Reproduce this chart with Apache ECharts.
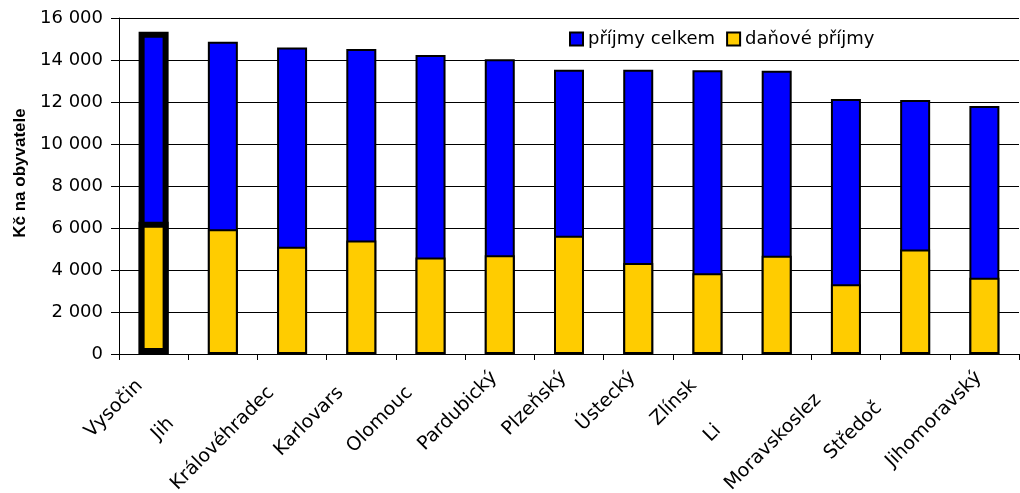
<!DOCTYPE html>
<html>
<head>
<meta charset="utf-8">
<script src="https://cdn.jsdelivr.net/npm/echarts@6/dist/echarts.min.js"></script>
<style>html,body{margin:0;padding:0;background:#fff}#c{width:1020px;height:493px}</style>
</head>
<body>
<div id="c"></div>
<script>
const categories = ["Vysočina","Jihočeský","Královéhradecký","Karlovarský","Olomoucký","Pardubický","Plzeňský","Ústecký","Zlínský","Liberecký","Moravskoslezský","Středočeský","Jihomoravský"];
// visible (unclipped) part of each category label as shown in the original
const tickLabels = ["Vysočin","Jih","Královéhradec","Karlovars","Olomouc","Pardubický","Plzeňský","Ústecký","Zlínsk","Li","Moravskoslez","Středoč","Jihomoravský"];
const prijmyCelkem = [15350,14870,14600,14520,14240,14030,13540,13540,13510,13490,12140,12100,11810];
const danovePrijmy = [6300,5940,5110,5400,4600,4700,5630,4330,3840,4680,3320,4980,3630];
const seriesNames = ["příjmy celkem","daňové příjmy"];
const yAxisTitle = "Kč na obyvatele";
const highlightIndex = 0;

const hFont = "DejaVu Sans";
function mk(vals){
  return vals.map((v,i)=> i===highlightIndex ? {value:v,itemStyle:{borderWidth:6}} : v);
}
const chart = echarts.init(document.getElementById('c'));
chart.setOption({
  animation:false,
  legend:{
    left:564, top:25, itemWidth:13, itemHeight:13, itemGap:11,
    icon:'rect',
    textStyle:{fontFamily:hFont,fontSize:18,color:'#000'},
    data:seriesNames
  },
  grid:{left:119,top:18,right:1,bottom:139,containLabel:false,outerBoundsMode:'none'},
  xAxis:{
    type:'category', data:categories,
    axisLine:{lineStyle:{color:'#000',width:1}},
    axisTick:{show:true,length:6,lineStyle:{color:'#000'},alignWithLabel:false},
    axisLabel:{
      interval:0, rotate:45, margin:15, padding:[0,8,0,0],
      formatter:function(v,i){
        const vis = tickLabels[i];
        const rest = v.slice(vis.length);
        return '{a|'+vis+'}' + (rest ? '{b|'+rest+'}' : '');
      },
      rich:{
        a:{fontFamily:hFont,fontSize:19,color:'#000'},
        b:{fontFamily:hFont,fontSize:19,color:'rgba(0,0,0,0)'}
      }
    }
  },
  yAxis:{
    type:'value', min:0, max:16000, interval:2000,
    name:yAxisTitle, nameLocation:'middle', nameRotate:90, nameGap:90,
    nameTextStyle:{fontFamily:'Liberation Sans',fontWeight:'bold',fontSize:17,color:'#000',padding:[0,0,0,26]},
    axisLine:{show:true,lineStyle:{color:'#000',width:1}},
    axisTick:{show:true,length:8,lineStyle:{color:'#000'}},
    axisLabel:{margin:16,fontFamily:hFont,fontSize:18,color:'#000',
      formatter:v=>String(v).replace(/\B(?=(\d{3})+(?!\d))/g,' ')},
    splitLine:{show:true,lineStyle:{color:'#000',width:1}}
  },
  series:[
    {name:seriesNames[0],type:'bar',data:mk(prijmyCelkem),barWidth:30,barGap:'-100%',
     itemStyle:{color:'#0000FF',borderColor:'#000',borderWidth:2}},
    {name:seriesNames[1],type:'bar',data:mk(danovePrijmy),barWidth:30,barGap:'-100%',
     itemStyle:{color:'#FFCC00',borderColor:'#000',borderWidth:2}}
  ]
});
</script>
</body>
</html>
